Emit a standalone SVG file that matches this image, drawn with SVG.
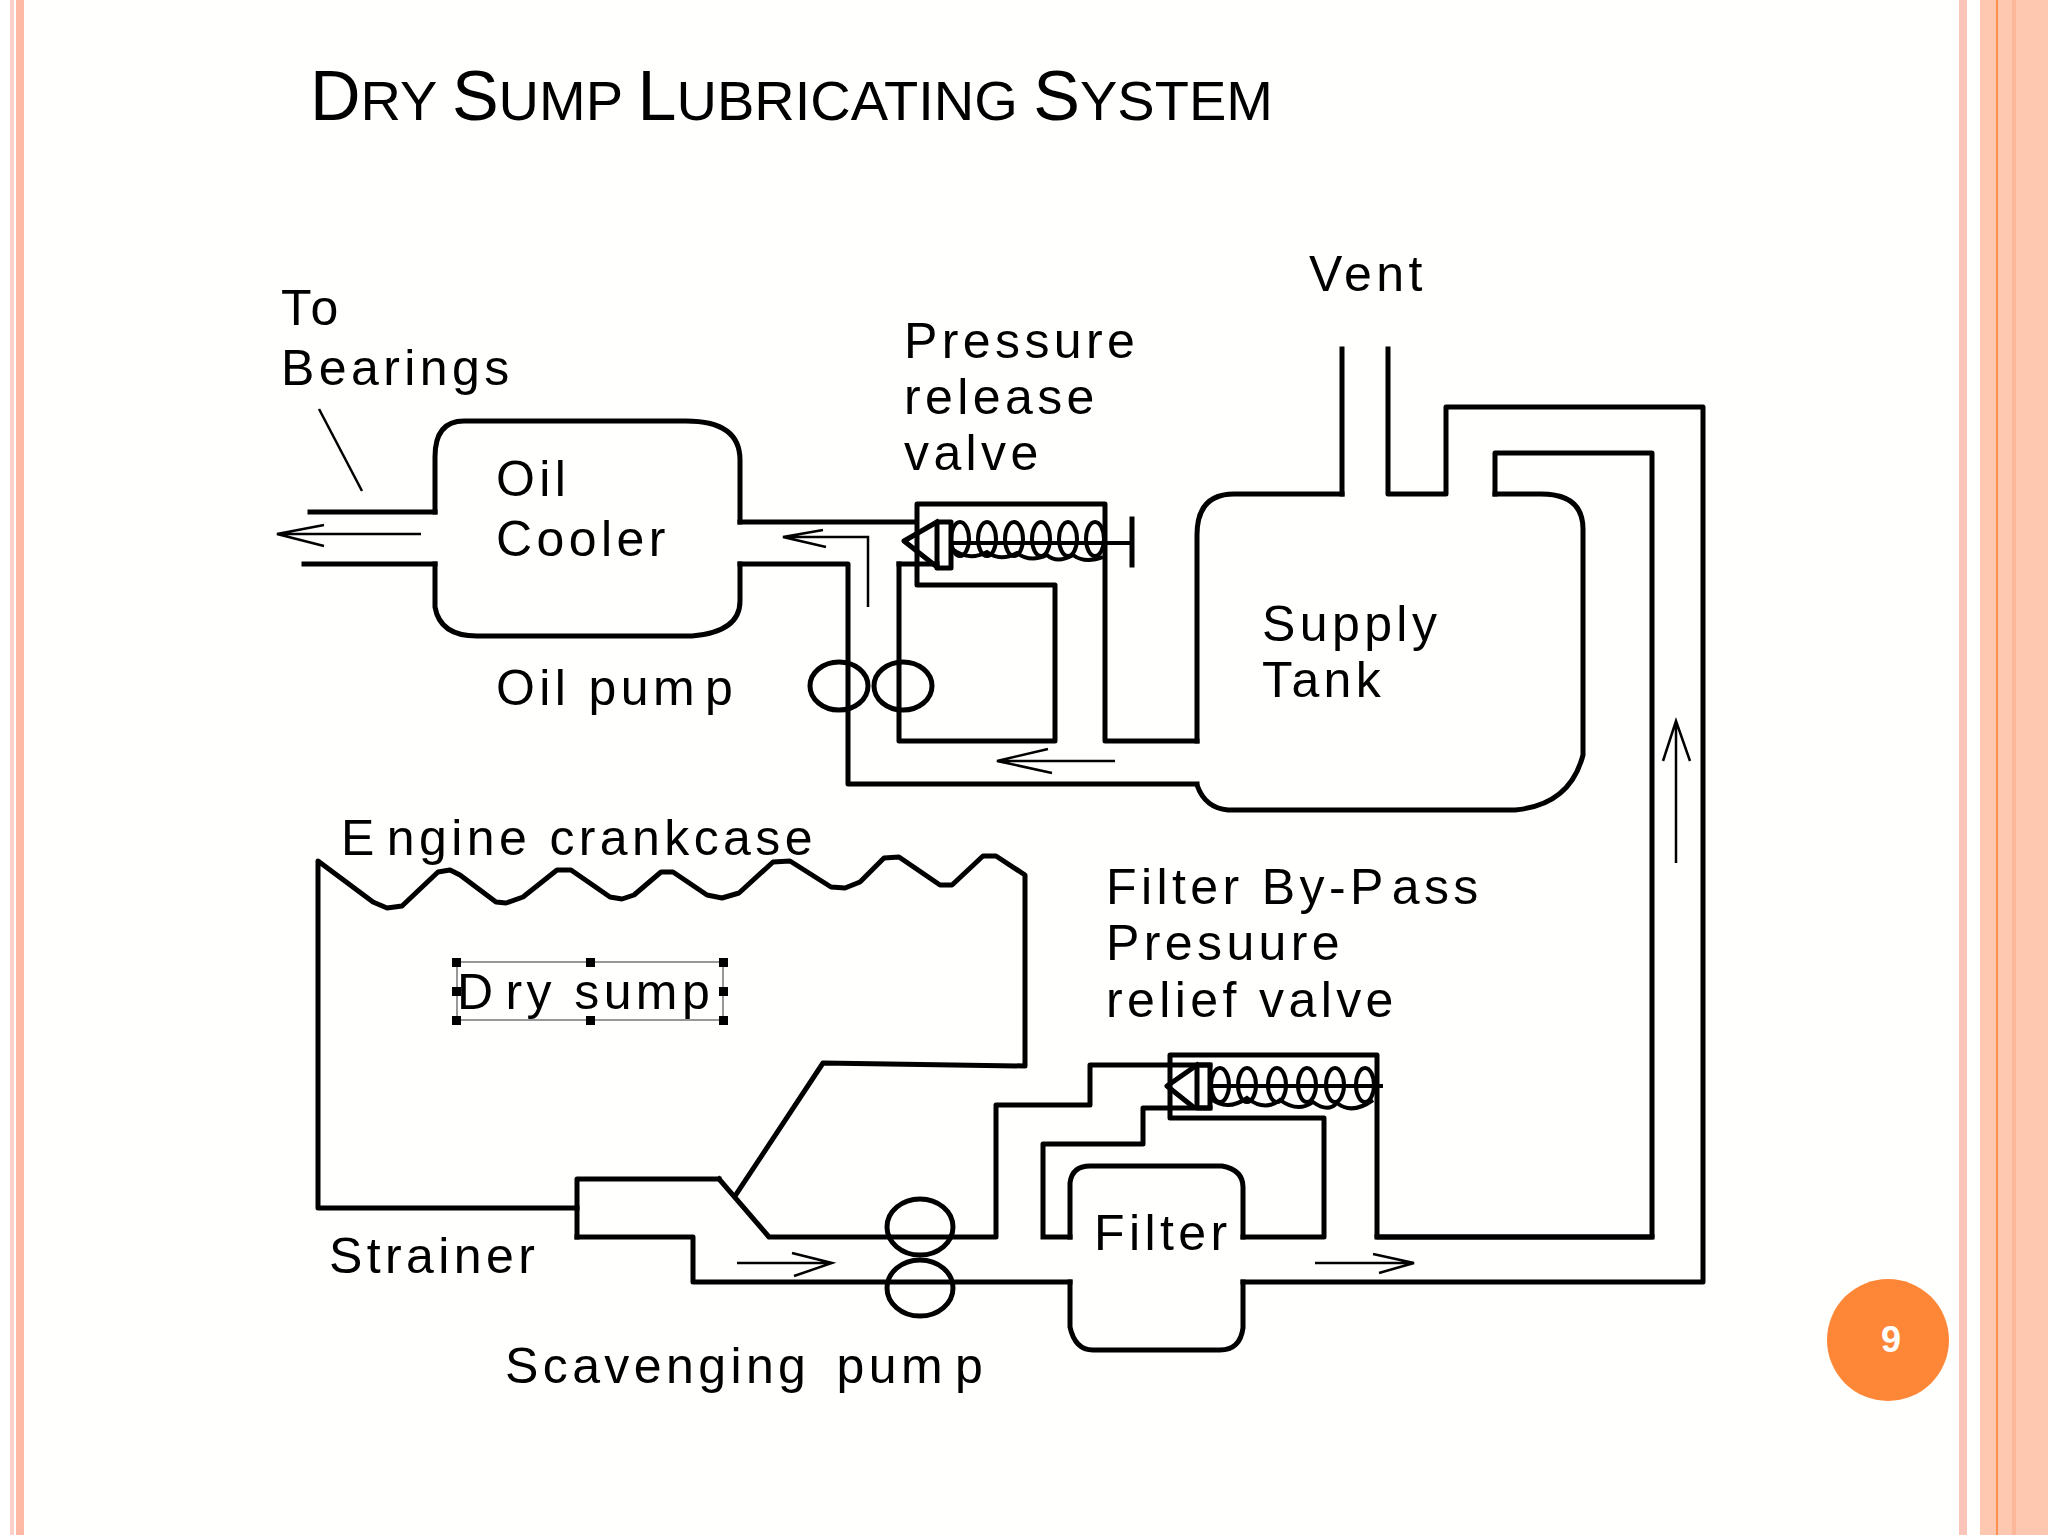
<svg xmlns="http://www.w3.org/2000/svg" width="2048" height="1535" viewBox="0 0 2048 1535">
<style>
text{font-family:"Liberation Sans",Arial,sans-serif;fill:#000}
.l{font-size:50px;letter-spacing:4.4px}
.p{fill:none;stroke:#000;stroke-width:5;stroke-linejoin:round;stroke-linecap:square}
.s{fill:none;stroke:#000;stroke-width:4}
.a{fill:none;stroke:#000;stroke-width:2.5}
.h{fill:#000}
</style>
<rect width="2048" height="1535" fill="#fffffd"/>
<g id="frame">
<rect x="0" y="0" width="10" height="1535" fill="#fff"/>
<rect x="10" y="0" width="4" height="1535" fill="#fbd0c8"/>
<rect x="16" y="0" width="8" height="1535" fill="#febaa5"/>
<rect x="1959" y="0" width="8" height="1535" fill="#fcc5b9"/>
<rect x="1980" y="0" width="68" height="1535" fill="#fec8b0"/>
<rect x="1996" y="0" width="2" height="1535" fill="#fe8f4f"/>
<rect x="2012" y="0" width="4" height="1535" fill="#fdb89c"/>
</g>
<text id="title" x="310" y="120" font-size="70"><tspan>D</tspan><tspan font-size="56">RY </tspan><tspan>S</tspan><tspan font-size="56">UMP </tspan><tspan>L</tspan><tspan font-size="56">UBRICATING </tspan><tspan>S</tspan><tspan font-size="56">YSTEM</tspan></text>
<g id="connectors">
<path class="p" d="M310,512H435M304,564H435M740,522H917M740,564H848V784H1197M899,564V741H1055V585H917V504H1105V741H1197"/>
<path class="p" d="M899,564H937"/>
<path class="p" d="M1342,349V494M1388,349V494H1446V407H1703V1282H1243M1377,1237H1652V453H1495V494"/>
<path class="p" d="M577,1237H693V1282H1070M719,1179L769,1237H996V1105H1090V1065H1210M1043,1237V1144H1143V1108H1210M1070,1237H1043M1243,1237H1324V1118H1170V1055H1377V1237H1652"/>
<path class="a" d="M868,607V537H783M823,530L783,537L826,547"/>
<path class="a" d="M1115,761H997M1048,749L997,761L1052,773"/>
<path class="a" d="M421,534H277M324,525L277,534L324,546"/>
<path class="a" d="M319,409L362,491"/>
<path class="a" d="M1676,863V721M1663,761L1676,721L1690,761"/>
<path class="a" d="M737,1263H832M792,1253L832,1263L794,1276"/>
<path class="a" d="M1315,1263H1414M1373,1254L1414,1263L1379,1273"/>
</g>
<g id="oil-cooler">
<path class="p" d="M435,512V457Q435,421 464,421H686Q740,421 740,460V522M435,564V607Q440,636 477,636H692Q740,632 740,601V564"/>
<text class="l" x="496" y="496">Oil</text>
<text class="l" x="496" y="556">Cooler</text>
</g>
<g id="to-bearings">
<text class="l" x="281" y="325">To</text>
<text class="l" x="281" y="385">Bearings</text>
</g>
<g id="pressure-release-valve">
<path class="p" d="M937,522L904,541L937,567"/>
<rect class="p" x="937" y="522" width="14" height="46"/>
<path class="s" d="M951,543H1132"/>
<path class="p" d="M1132,519V565"/>
<g class="s">
<ellipse cx="960" cy="539" rx="9" ry="17"/><ellipse cx="987" cy="539" rx="9" ry="17"/><ellipse cx="1014" cy="539" rx="9" ry="17"/><ellipse cx="1041" cy="539" rx="9" ry="17"/><ellipse cx="1068" cy="539" rx="9" ry="17"/><ellipse cx="1095" cy="539" rx="9" ry="17"/>
</g>
<path class="s" d="M951,548Q968,562 987,552Q1000,562 1017,553Q1030,563 1047,555Q1057,564 1073,555Q1085,564 1103,557"/>
<text class="l" x="904" y="358">Pressure</text>
<text class="l" x="904" y="414">release</text>
<text class="l" x="904" y="470">valve</text>
</g>
<g id="oil-pump">
<ellipse class="p" cx="839" cy="686" rx="29" ry="24"/>
<ellipse class="p" cx="903" cy="686" rx="29" ry="24"/>
<text class="l" x="496" y="705">Oil pum<tspan dx="6">p</tspan></text>
</g>
<g id="supply-tank">
<path class="p" d="M1197,741V535Q1197,494 1234,494H1342M1495,494H1541Q1583,494 1583,529V755Q1570,805 1515,810H1228Q1205,808 1197,785"/>
<text class="l" x="1262" y="641">Supply</text>
<text class="l" x="1262" y="697">Tank</text>
<text class="l" x="1309" y="291">Vent</text>
</g>
<g id="crankcase">
<path class="p" d="M577,1208H318V861L373,902L387,908L402,906L438,872L450,870L460,875L496,902L506,903L523,897L557,870L571,870L610,897L622,899L634,895L661,872L673,872L707,895L722,898L739,893L773,862L790,861L831,887L845,888L860,882L884,858L899,857L940,885L952,885L983,856L996,856L1025,875V1066L823,1063L735,1196"/>
<text class="l" x="341" y="855">E<tspan dx="8">ngine crankcase</tspan></text>
</g>
<g id="dry-sump">
<rect x="457" y="962" width="266" height="58" fill="none" stroke="#777" stroke-width="1.5"/>
<g class="h">
<rect x="452" y="958" width="9" height="9"/><rect x="586" y="958" width="9" height="9"/><rect x="719" y="958" width="9" height="9"/>
<rect x="452" y="987" width="9" height="9"/><rect x="719" y="987" width="9" height="9"/>
<rect x="452" y="1016" width="9" height="9"/><rect x="586" y="1016" width="9" height="9"/><rect x="719" y="1016" width="9" height="9"/>
</g>
<text class="l" x="457" y="1009">D<tspan dx="8">ry sump</tspan></text>
</g>
<g id="strainer">
<path class="p" d="M577,1237V1179H719"/>
<text class="l" x="329" y="1273">Strainer</text>
</g>
<g id="scavenging-pump">
<ellipse class="p" cx="920" cy="1227" rx="33" ry="28"/>
<ellipse class="p" cx="920" cy="1288" rx="33" ry="28"/>
<text class="l" x="505" y="1383">Scavenging <tspan dx="8">pum</tspan><tspan dx="8">p</tspan></text>
</g>
<g id="filter">
<path class="p" d="M1070,1237V1183Q1072,1166 1090,1166H1222Q1243,1170 1243,1187V1237M1070,1282V1327Q1075,1350 1093,1350H1220Q1240,1350 1243,1328V1282"/>
<text class="l" x="1094" y="1250">Filter</text>
</g>
<g id="filter-bypass-valve">
<path class="p" d="M1197,1065L1167,1086L1192,1106"/>
<rect class="p" x="1197" y="1065" width="13" height="43"/>
<path class="s" d="M1210,1086H1383"/>
<g class="s">
<ellipse cx="1220" cy="1085" rx="9" ry="17"/><ellipse cx="1247" cy="1085" rx="9" ry="17"/><ellipse cx="1277" cy="1085" rx="9" ry="17"/><ellipse cx="1307" cy="1085" rx="9" ry="17"/><ellipse cx="1335" cy="1085" rx="9" ry="17"/><ellipse cx="1365" cy="1085" rx="9" ry="17"/>
</g>
<path class="s" d="M1210,1098Q1227,1112 1247,1098Q1265,1112 1280,1100Q1298,1113 1313,1102Q1328,1113 1337,1103Q1352,1115 1373,1100"/>
<text class="l" x="1106" y="904">Filter By-P<tspan dx="4">ass</tspan></text>
<text class="l" x="1106" y="960">Presuure</text>
<text class="l" x="1106" y="1017">relief valve</text>
</g>
<g id="page-number">
<circle cx="1888" cy="1340" r="61" fill="#fe8637"/>
<text x="1891" y="1352" font-size="36" font-weight="bold" text-anchor="middle" style="fill:#fff">9</text>
</g>
</svg>
